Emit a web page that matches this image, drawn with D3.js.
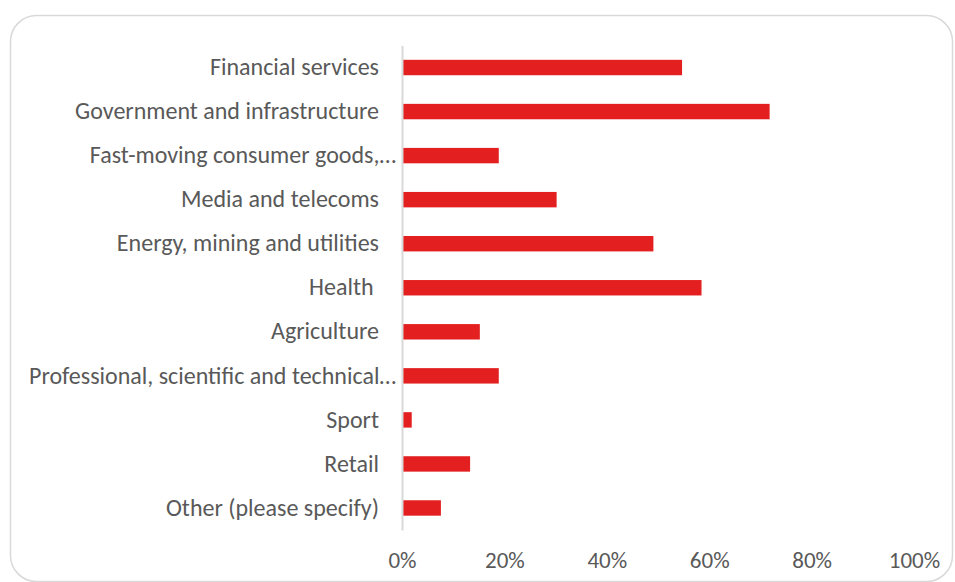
<!DOCTYPE html>
<html>
<head>
<meta charset="utf-8">
<script src="https://cdn.jsdelivr.net/npm/d3@7"></script>
<style>
  html, body { margin: 0; padding: 0; background: #ffffff; }
  svg { display: block; }
  text { font-family: Carlito, Calibri, Lato, "Open Sans", sans-serif; fill: #595959; white-space: pre; }
</style>
</head>
<body>
<svg id="chart" width="955" height="582"></svg>
<script>
const categories = [
  "Financial services",
  "Government and infrastructure",
  "Fast-moving consumer goods,…",
  "Media and telecoms",
  "Energy, mining and utilities",
  "Health ",
  "Agriculture",
  "Professional, scientific and technical…",
  "Sport",
  "Retail",
  "Other (please specify)"
];
const values = [0.547, 0.718, 0.189, 0.302, 0.491, 0.585, 0.152, 0.189, 0.019, 0.133, 0.076];
const tickValues = [0, 0.2, 0.4, 0.6, 0.8, 1.0];

const svg = d3.select("#chart");

// card
svg.append("rect")
  .attr("x", 10.5).attr("y", 15.5)
  .attr("width", 942).attr("height", 566)
  .attr("rx", 26).attr("ry", 26)
  .attr("fill", "#ffffff")
  .attr("stroke", "#d9d9d9").attr("stroke-width", 1.5);

const x = d3.scaleLinear().domain([0, 1]).range([402, 914]);
const y = d3.scaleBand().domain(categories).range([45.5, 530]).paddingInner(0.65).paddingOuter(0.325);

const labelSize = 24;
const tickSize = 23;

// bars
svg.append("g").selectAll("rect")
  .data(categories.map((c, i) => ({ c, v: values[i] })))
  .join("rect")
  .attr("x", x(0) + 1)
  .attr("y", d => y(d.c))
  .attr("width", d => x(d.v) - x(0) - 1)
  .attr("height", y.bandwidth())
  .attr("fill", "#e31f1f");

// y axis
const yAxis = d3.axisLeft(y).tickSize(0).tickPadding(23);
const gy = svg.append("g").attr("transform", `translate(${x(0)},0)`).call(yAxis);
gy.select(".domain").attr("stroke", "#d9d9d9").attr("stroke-width", 2);
gy.selectAll("text")
  .attr("font-size", labelSize)
  .attr("fill", "#595959")
  .style("font-family", "Carlito, Calibri, Lato, 'Open Sans', sans-serif")
  .attr("dx", d => d.endsWith("…") ? 17 : 0);

// x axis (labels only)
const xAxis = d3.axisBottom(x).tickValues(tickValues).tickSize(0).tickFormat(d3.format(".0%")).tickPadding(0);
const gx = svg.append("g").attr("transform", `translate(0,${552})`).call(xAxis);
gx.select(".domain").remove();
gx.selectAll("text")
  .attr("font-size", tickSize)
  .attr("fill", "#595959")
  .style("font-family", "Carlito, Calibri, Lato, 'Open Sans', sans-serif");
</script>
</body>
</html>
